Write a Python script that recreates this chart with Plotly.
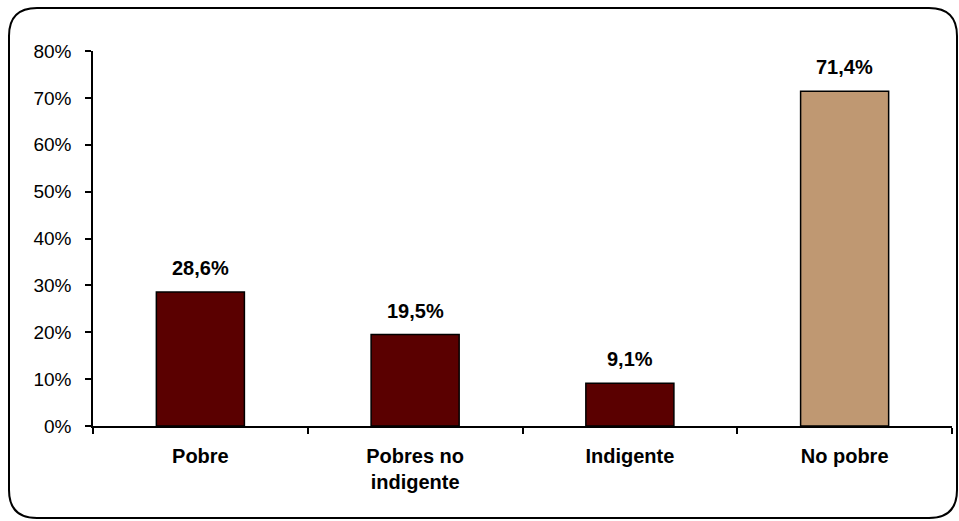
import plotly.graph_objects as go

categories = ["Pobre", "Pobres no<br>indigente", "Indigente", "No pobre"]
values = [0.286, 0.195, 0.091, 0.714]
value_labels = ["28,6%", "19,5%", "9,1%", "71,4%"]
bar_colors = ["#5a0000", "#5a0000", "#5a0000", "#bf9872"]
y_tickvals = [0, 0.1, 0.2, 0.3, 0.4, 0.5, 0.6, 0.7, 0.8]
y_ticktext = ["0%", "10%", "20%", "30%", "40%", "50%", "60%", "70%", "80%"]

W, H = 959, 521
L, R, T, B = 93, 959 - 952, 51, 521 - 426
FONT = "Liberation Sans, Arial, sans-serif"

fig = go.Figure()
fig.add_trace(go.Bar(
    x=categories, y=values,
    marker=dict(color=bar_colors, line=dict(color="black", width=1.5)),
    width=0.41, hoverinfo="skip",
))

for c, v, t in zip(categories, values, value_labels):
    fig.add_annotation(x=c, y=v, text="<b>%s</b>" % t, showarrow=False,
                       yanchor="middle", yshift=24,
                       font=dict(family=FONT, size=20, color="black"))

# rounded frame in pixel space converted to paper coords
pw, ph = W - L - R, H - T - B
def px(x):
    return (x - L) / pw
def py(y):
    return (H - B - y) / ph
x0, x1, y0, y1, r = 9, 957, 8, 518, 28
path = (f"M {px(x0+r)},{py(y0)} L {px(x1-r)},{py(y0)} "
        f"Q {px(x1)},{py(y0)} {px(x1)},{py(y0+r)} "
        f"L {px(x1)},{py(y1-r)} Q {px(x1)},{py(y1)} {px(x1-r)},{py(y1)} "
        f"L {px(x0+r)},{py(y1)} Q {px(x0)},{py(y1)} {px(x0)},{py(y1-r)} "
        f"L {px(x0)},{py(y0+r)} Q {px(x0)},{py(y0)} {px(x0+r)},{py(y0)} Z")
fig.add_shape(type="path", path=path, xref="paper", yref="paper",
              line=dict(color="black", width=2), layer="above")

fig.update_layout(
    width=W, height=H,
    margin=dict(l=L, r=R, t=T, b=B, pad=0),
    paper_bgcolor="white", plot_bgcolor="white",
    showlegend=False, bargap=0.59,
    font=dict(family=FONT, color="black"),
)
fig.update_xaxes(
    showline=True, linecolor="black", linewidth=1.5,
    ticks="outside", ticklen=6, tickcolor="black", tickwidth=1.5,
    tickson="boundaries", showgrid=False, zeroline=False,
    tickfont=dict(family=FONT, size=20, color="black", weight="bold"),
    ticklabelstandoff=11, fixedrange=True,
)
fig.update_yaxes(
    range=[0, 0.8], tickvals=y_tickvals, ticktext=y_ticktext,
    showline=True, linecolor="black", linewidth=1.5,
    ticks="outside", ticklen=6, tickcolor="black", tickwidth=1.5,
    showgrid=False, zeroline=False,
    tickfont=dict(family=FONT, size=19, color="black"),
    ticklabelstandoff=10, fixedrange=True,
)

fig.write_html("out.html", config={"displayModeBar": False})
